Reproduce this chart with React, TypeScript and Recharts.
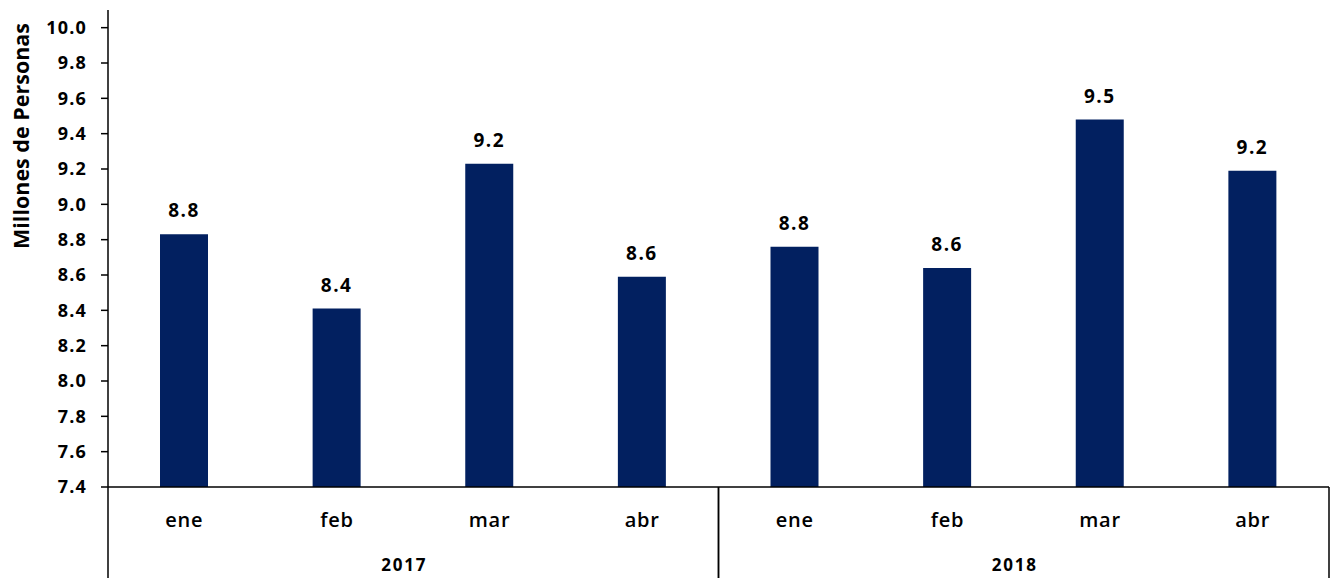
import React from "react";
import { BarChart, Bar, XAxis, YAxis, LabelList } from "recharts";

const months = ["ene", "feb", "mar", "abr", "ene", "feb", "mar", "abr"];
const years = ["2017", "2017", "2017", "2017", "2018", "2018", "2018", "2018"];
const values = [8.83, 8.41, 9.23, 8.59, 8.76, 8.64, 9.48, 9.19];
const yTicks = [7.4, 7.6, 7.8, 8.0, 8.2, 8.4, 8.6, 8.8, 9.0, 9.2, 9.4, 9.6, 9.8, 10.0];

const data = months.map((m, i) => ({ key: `${years[i]}-${m}`, month: m, year: years[i], value: values[i] }));

const W = 1333;
const H = 578;
const MARGIN = { top: 10, right: 4, bottom: 0, left: 0 };
const Y_AXIS_W = 108;
const MONTH_H = 46;
const YEAR_H = 45;
const PLOT_W = W - MARGIN.left - MARGIN.right - Y_AXIS_W;
const PLOT_BOTTOM = H - MARGIN.bottom - MONTH_H - YEAR_H;
const N_YEARS = 2;
const FONT = "'Open Sans', 'DejaVu Sans', sans-serif";
const BAR_COLOR = "#022060";

const MonthTick = (props: any) => {
  const { x, payload } = props;
  return (
    <text x={x} y={PLOT_BOTTOM + 32} textAnchor="middle" dominantBaseline="central"
      fontFamily={FONT} fontSize={20} fontWeight={600} letterSpacing={0.8} fill="#000">
      {payload.value}
    </text>
  );
};

const YearTick = (props: any) => {
  const { x, payload } = props;
  const half = PLOT_W / N_YEARS / 2;
  return (
    <g>
      <line x1={x - half} x2={x - half} y1={PLOT_BOTTOM} y2={H} stroke="#000" strokeWidth={1.5} />
      <line x1={x + half} x2={x + half} y1={PLOT_BOTTOM} y2={H} stroke="#000" strokeWidth={1.5} />
      <text x={x - 9} y={PLOT_BOTTOM + 77} textAnchor="middle" dominantBaseline="central"
        fontFamily={FONT} fontSize={17} fontWeight={700} letterSpacing={1.8} fill="#000">
        {payload.value}
      </text>
    </g>
  );
};

const YLabel = (props: any) => {
  const { viewBox } = props;
  const cx = 20;
  const cy = viewBox.y + 126;
  return (
    <text x={cx} y={cy} transform={`rotate(-90, ${cx}, ${cy})`} textAnchor="middle" dominantBaseline="central"
      fontFamily={FONT} fontSize={21.5} fontWeight={700} fill="#000">
      Millones de Personas
    </text>
  );
};

export default function App() {
  return (
    <div style={{ position: "absolute", left: 0, top: 0, width: W, height: H, background: "#fff" }}>
      <BarChart width={W} height={H} data={data} margin={MARGIN}>
        <YAxis
          type="number"
          domain={[7.4, 10.1]}
          ticks={yTicks}
          interval={0}
          width={Y_AXIS_W}
          axisLine={{ stroke: "#000", strokeWidth: 1.5 }}
          tickLine={{ stroke: "#000", strokeWidth: 1.5 }}
          tickSize={7}
          tickMargin={14}
          tickFormatter={(v: number) => v.toFixed(1)}
          tick={{ fontFamily: FONT, fontSize: 18, fontWeight: 700, fill: "#000", letterSpacing: 1.2 }}
          label={<YLabel />}
        />
        <XAxis
          xAxisId="m"
          dataKey="key"
          height={MONTH_H}
          axisLine={{ stroke: "#000", strokeWidth: 1.5 }}
          tickLine={false}
          interval={0}
          tick={(p: any) => <MonthTick {...p} payload={{ value: String(p.payload.value).split("-")[1] }} />}
        />
        <XAxis
          xAxisId="y"
          dataKey="year"
          allowDuplicatedCategory={false}
          height={YEAR_H}
          axisLine={false}
          tickLine={false}
          interval={0}
          tick={<YearTick />}
        />
        <Bar dataKey="value" xAxisId="m" fill={BAR_COLOR} barSize={48} isAnimationActive={false}>
          <LabelList
            dataKey="value"
            position="top"
            offset={17}
            formatter={(v: any) => Number(v).toFixed(1)}
            style={{ fontFamily: FONT, fontSize: 19, fontWeight: 700, fill: "#000", letterSpacing: 1.5 }}
          />
        </Bar>
      </BarChart>
    </div>
  );
}
